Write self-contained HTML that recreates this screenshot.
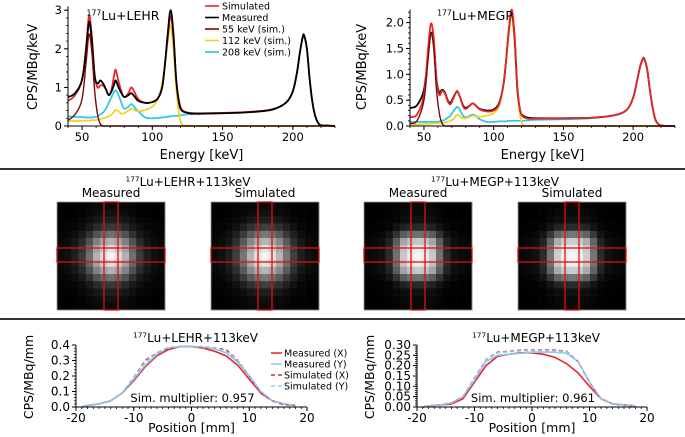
<!DOCTYPE html>
<html><head><meta charset="utf-8">
<style>
html,body{margin:0;padding:0;background:#fff;}
svg{display:block;font-family:"DejaVu Sans","Liberation Sans",sans-serif;}
</style></head>
<body>
<svg id="fig" width="685" height="437" viewBox="0 0 685 437" xmlns="http://www.w3.org/2000/svg">
<rect x="0" y="0" width="685" height="437" fill="#fff"/>
<line x1="0" y1="169" x2="685" y2="169" stroke="#333" stroke-width="2"/>
<line x1="0" y1="319" x2="685" y2="319" stroke="#333" stroke-width="2"/>
<g id="layer"></g>
</svg>
<script>
// ---------- DATA ----------
const energies = [40,45,50,53,55,57,59,61,63,65,67,69,71,73,74,76,78,80,83,85,87,90,95,100,104,107,109,111,113,115,117,119,121,125,130,150,170,185,195,200,203,205,207,208,210,212,214,216,218,220,225,230];
const lehrMeasured = [0.75,0.85,1.2,2.0,2.7,2.2,1.3,1.1,1.18,1.1,0.95,0.8,0.9,1.1,1.18,1.0,0.85,0.75,0.8,0.85,0.78,0.65,0.6,0.62,0.72,1.0,1.6,2.4,3.0,2.4,1.2,0.6,0.4,0.34,0.32,0.33,0.36,0.42,0.6,0.9,1.4,1.9,2.3,2.35,2.0,1.2,0.6,0.25,0.08,0.02,0.01,0.0];
const lehrSimulated = [0.65,0.8,1.2,2.1,2.87,2.3,1.3,1.0,1.05,1.05,0.95,0.8,0.95,1.35,1.45,1.15,0.9,0.75,0.85,1.0,0.9,0.7,0.6,0.62,0.72,1.0,1.6,2.3,2.85,2.3,1.2,0.65,0.42,0.35,0.33,0.34,0.37,0.43,0.6,0.9,1.4,1.9,2.3,2.35,2.0,1.2,0.6,0.25,0.08,0.02,0.01,0.0];
const lehr55 = [0.15,0.3,0.7,1.7,2.38,1.9,0.9,0.3,0.05,0,0,0,0,0,0,0,0,0,0,0,0,0,0,0,0,0,0,0,0,0,0,0,0,0,0,0,0,0,0,0,0,0,0,0,0,0,0,0,0,0,0,0];
const lehr112 = [0.13,0.13,0.14,0.14,0.14,0.15,0.15,0.16,0.18,0.2,0.22,0.25,0.3,0.38,0.42,0.38,0.32,0.33,0.4,0.45,0.42,0.38,0.42,0.5,0.7,1.1,1.6,2.2,2.6,2.0,1.0,0.3,0.05,0,0,0,0,0,0,0,0,0,0,0,0,0,0,0,0,0,0,0];
const lehr208 = [0.25,0.24,0.23,0.22,0.22,0.22,0.23,0.25,0.3,0.35,0.45,0.6,0.75,0.9,0.92,0.8,0.6,0.45,0.5,0.57,0.5,0.38,0.22,0.2,0.21,0.22,0.23,0.24,0.25,0.26,0.26,0.27,0.28,0.3,0.31,0.33,0.36,0.42,0.6,0.9,1.4,1.9,2.3,2.35,2.0,1.2,0.6,0.25,0.08,0.02,0.01,0.0];
const megpMeasured = [0.35,0.4,0.7,1.4,1.8,1.6,0.9,0.65,0.7,0.65,0.5,0.45,0.55,0.65,0.67,0.55,0.4,0.35,0.4,0.44,0.4,0.33,0.3,0.32,0.45,0.8,1.3,1.9,2.2,1.7,0.7,0.3,0.2,0.16,0.15,0.15,0.16,0.2,0.3,0.55,0.9,1.15,1.3,1.3,1.1,0.7,0.35,0.12,0.04,0.01,0,0];
const megpSimulated = [0.17,0.22,0.6,1.5,1.98,1.7,0.9,0.6,0.68,0.63,0.48,0.42,0.53,0.65,0.67,0.55,0.38,0.33,0.4,0.44,0.4,0.32,0.28,0.3,0.43,0.8,1.3,1.9,2.25,1.75,0.75,0.3,0.18,0.14,0.14,0.15,0.16,0.2,0.3,0.55,0.9,1.15,1.3,1.3,1.1,0.7,0.35,0.12,0.04,0.01,0,0];
const megp55 = [0.05,0.1,0.5,1.3,1.8,1.5,0.7,0.25,0.05,0,0,0,0,0,0,0,0,0,0,0,0,0,0,0,0,0,0,0,0,0,0,0,0,0,0,0,0,0,0,0,0,0,0,0,0,0,0,0,0,0,0,0];
const megp112 = [0.03,0.03,0.04,0.04,0.04,0.05,0.05,0.05,0.06,0.07,0.08,0.1,0.13,0.2,0.22,0.18,0.15,0.15,0.18,0.2,0.19,0.18,0.2,0.25,0.4,0.8,1.3,1.8,2.15,1.6,0.7,0.2,0.02,0,0,0,0,0,0,0,0,0,0,0,0,0,0,0,0,0,0,0];
const megp208 = [0.08,0.08,0.08,0.08,0.08,0.08,0.08,0.09,0.1,0.12,0.16,0.2,0.28,0.35,0.37,0.3,0.2,0.17,0.2,0.22,0.2,0.13,0.08,0.08,0.09,0.09,0.09,0.1,0.1,0.1,0.1,0.1,0.1,0.11,0.12,0.13,0.15,0.2,0.3,0.55,0.9,1.15,1.3,1.3,1.1,0.7,0.35,0.12,0.04,0.01,0,0];

const positions = [-19,-18,-16,-14,-12,-10,-8,-6,-4,-2,0,2,4,6,8,10,12,14,16,18];
const lehrMeasX = [0,0.01,0.02,0.04,0.09,0.17,0.26,0.33,0.37,0.39,0.39,0.38,0.36,0.33,0.27,0.18,0.09,0.04,0.02,0.01];
const lehrMeasY = [0,0.01,0.02,0.04,0.09,0.18,0.27,0.34,0.38,0.39,0.39,0.385,0.375,0.35,0.29,0.2,0.1,0.04,0.02,0.01];
const lehrSimX  = [0,0.01,0.02,0.04,0.09,0.19,0.3,0.35,0.38,0.39,0.39,0.385,0.38,0.37,0.3,0.2,0.09,0.04,0.015,0.01];
const lehrSimY  = [0,0.01,0.02,0.04,0.09,0.19,0.29,0.35,0.385,0.39,0.39,0.39,0.38,0.36,0.3,0.2,0.1,0.04,0.02,0.01];
const megpMeasX = [0,0.005,0.01,0.015,0.04,0.12,0.2,0.245,0.255,0.262,0.262,0.255,0.24,0.21,0.165,0.1,0.04,0.015,0.01,0.005];
const megpMeasY = [0,0.005,0.01,0.02,0.05,0.13,0.22,0.25,0.255,0.26,0.265,0.265,0.265,0.26,0.22,0.12,0.04,0.015,0.01,0.005];
const megpSimX  = [0,0.005,0.01,0.02,0.05,0.14,0.23,0.265,0.27,0.275,0.275,0.275,0.275,0.27,0.22,0.12,0.04,0.015,0.01,0.005];
const megpSimY  = [0,0.005,0.01,0.02,0.05,0.14,0.23,0.262,0.268,0.272,0.272,0.272,0.272,0.268,0.22,0.12,0.04,0.015,0.01,0.005];

const imgProfileLehrMeas = [0.03,0.05,0.1,0.2,0.42,0.7,0.9,1.0,0.9,0.7,0.42,0.2,0.1,0.05,0.03];
const imgProfileLehrSim  = [0.03,0.05,0.1,0.22,0.45,0.72,0.92,1.0,0.92,0.72,0.45,0.22,0.1,0.05,0.03];
const imgProfileMegpMeas = [0.02,0.03,0.05,0.14,0.42,0.8,0.96,1.0,0.96,0.8,0.42,0.14,0.05,0.03,0.02];
const imgProfileMegpSim  = [0.02,0.03,0.05,0.14,0.44,0.82,0.97,1.0,0.97,0.82,0.44,0.14,0.05,0.03,0.02];

const spectrumTicksX = [50,100,150,200];
const lehrTicksY = [0,1,2,3];
const megpTicksY = [0.0,0.5,1.0,1.5,2.0];
const profTicksX = [-20,-10,0,10,20];
const lehrProfTicksY = [0.0,0.1,0.2,0.3,0.4];
const megpProfTicksY = [0.00,0.05,0.10,0.15,0.20,0.25,0.30];

// ---------- HELPERS ----------
const NS = "http://www.w3.org/2000/svg";
const layer = document.getElementById('layer');
function mk(tag, attrs, parent){
  const e = document.createElementNS(NS, tag);
  for (const k in attrs) e.setAttribute(k, attrs[k]);
  (parent||layer).appendChild(e);
  return e;
}
function txt(x,y,s,size,anchor,parent){
  const t = mk('text',{x:x,y:y,'font-size':size,'text-anchor':anchor||'middle',fill:'#000'},parent);
  t.textContent = s;
  return t;
}
function linScale(d0,d1,r0,r1){ return v => r0 + (v-d0)/(d1-d0)*(r1-r0); }
function smoothPath(pts){
  let d = 'M'+pts[0][0].toFixed(2)+','+pts[0][1].toFixed(2);
  for (let i=0;i<pts.length-1;i++){
    const p0 = pts[i-1]||pts[i], p1 = pts[i], p2 = pts[i+1], p3 = pts[i+2]||p2;
    const c1x = p1[0]+(p2[0]-p0[0])/6, c1y = p1[1]+(p2[1]-p0[1])/6;
    const c2x = p2[0]-(p3[0]-p1[0])/6, c2y = p2[1]-(p3[1]-p1[1])/6;
    d += ' C'+c1x.toFixed(2)+','+c1y.toFixed(2)+' '+c2x.toFixed(2)+','+c2y.toFixed(2)+' '+p2[0].toFixed(2)+','+p2[1].toFixed(2);
  }
  return d;
}

function axes(g, xs, ys, x0, x1, y0, y1, xticks, yticks, xfmt, yfmt, fs, xminor, yminor, xdom, ydom){
  mk('line',{x1:x0,y1:y0,x2:x1,y2:y0,stroke:'#000','stroke-width':1},g);
  mk('line',{x1:x0,y1:y0,x2:x0,y2:y1,stroke:'#000','stroke-width':1},g);
  xticks.forEach(v=>{
    const X = xs(v);
    mk('line',{x1:X,y1:y0,x2:X,y2:y0+4,stroke:'#000','stroke-width':1},g);
    const t = txt(X, y0+15, xfmt(v), fs, 'middle', g);
    
    
  });
  yticks.forEach(v=>{
    const Y = ys(v);
    mk('line',{x1:x0-4,y1:Y,x2:x0,y2:Y,stroke:'#000','stroke-width':1},g);
    const t = txt(x0-6, Y+4, yfmt(v), fs, 'end', g);
    
    
  });
  if (xminor){ for (let v=xdom[0]; v<=xdom[1]+1e-9; v+=xminor){ const X=xs(v); mk('line',{x1:X,y1:y0,x2:X,y2:y0+2,stroke:'#000','stroke-width':0.8},g);} }
  if (yminor){ for (let v=ydom[0]; v<=ydom[1]+1e-9; v+=yminor){ const Y=ys(v); mk('line',{x1:x0-2,y1:Y,x2:x0,y2:Y,stroke:'#000','stroke-width':0.8},g);} }
}

function series(g, xs, ys, xv, yv, color, width, dash, name, smooth){
  const pts = xv.map((x,i)=>[xs(x), ys(yv[i])]);
  const p = mk('path',{d: smooth? smoothPath(pts) : 'M'+pts.map(p=>p[0].toFixed(2)+','+p[1].toFixed(2)).join(' L'), fill:'none', stroke:color,'stroke-width':width,'stroke-linejoin':'round'},g);
  if (dash) p.setAttribute('stroke-dasharray', dash);
  
  
}

function titleSup(x,y,rest,fs,g){
  const t = mk('text',{x:x,y:y,'font-size':fs,'text-anchor':'middle',fill:'#000'},g);
  const s = mk('tspan',{'font-size':fs*0.62,dy:-fs*0.38},t); s.textContent='177';
  const r = mk('tspan',{dy:fs*0.38},t); r.textContent=rest;
  return t;
}

// ---------- SPECTRUM PANELS ----------
function spectrum(name, x0, x1, ymaxVal, yPerUnit, yticks, yfmt, yminor, data, title, titleX, legend, redTop){
  const g = mk('g',{});
  
  
  const y0 = 126;
  const xs = linScale(40,230,x0,x1);
  const ys = v => y0 - v*yPerUnit;
  const cols = {s:'#e8262a', m:'#000', p55:'#7a0b0b', p112:'#f2d21b', p208:'#2ec4ea'};
  series(g,xs,ys,energies,data.p208,cols.p208,1.7,null,'series-208kev',true);
  series(g,xs,ys,energies,data.p112,cols.p112,1.7,null,'series-112kev',true);
  if (redTop){
    series(g,xs,ys,energies,data.m,cols.m,1.8,null,'series-measured',true);
    series(g,xs,ys,energies,data.s,cols.s,1.8,null,'series-simulated',true);
  } else {
    series(g,xs,ys,energies,data.s,cols.s,1.8,null,'series-simulated',true);
    series(g,xs,ys,energies,data.m,cols.m,1.8,null,'series-measured',true);
  }
  series(g,xs,ys,energies,data.p55,cols.p55,1.4,null,'series-55kev',true);
  axes(g,xs,ys,x0,x1,y0,ys(ymaxVal),spectrumTicksX,yticks,v=>String(v),yfmt,11.5,10,yminor,[40,230],[0,ymaxVal]);
  const xl = txt((x0+x1)/2, 159, 'Energy [keV]', 13, 'middle', g);
   
  const ylx = x0 - (yfmt(yticks[yticks.length-1]).length>1? 44: 31);
  const yl = txt(0,0,'CPS/MBq/keV',13,'middle',g);
  yl.setAttribute('transform','translate('+ylx+',67) rotate(-90)');
   
  const tt = titleSup(titleX, 20, title, 12.5, g);
   
  if (legend){
    const lg = mk('g',{},g);
     
    const items = [['Simulated',cols.s],['Measured',cols.m],['55 keV (sim.)',cols.p55],['112 keV (sim.)',cols.p112],['208 keV (sim.)',cols.p208]];
    items.forEach((it,i)=>{
      const y = 6 + i*11.5;
      const e = mk('g',{},lg);
       
      mk('line',{x1:205,y1:y,x2:219,y2:y,stroke:it[1],'stroke-width':1.6},e);
      txt(222,y+3.5,it[0],9.5,'start',e);
    });
  }
}
spectrum('spectrum-lehr-chart',68,335,3.1,38.6,lehrTicksY,v=>String(v),0.2,{m:lehrMeasured,s:lehrSimulated,p55:lehr55,p112:lehr112,p208:lehr208},'Lu+LEHR',123,true,false);
spectrum('spectrum-megp-chart',410,675,2.25,51.7,megpTicksY,v=>v.toFixed(1),0.1,{m:megpMeasured,s:megpSimulated,p55:megp55,p112:megp112,p208:megp208},'Lu+MEGP',475,false,true);

// ---------- IMAGES ----------
function image(name,x,y,size,profile,barX){
  const g = mk('g',{});
  
  
  const n = profile.length, c = size/n;
  for (let i=0;i<n;i++) for (let j=0;j<n;j++){
    const v = Math.min(1, profile[i]*profile[j]);
    const gv = Math.round(Math.pow(v,0.9)*245);
    const r = mk('rect',{x:(x+i*c).toFixed(2),y:(y+j*c).toFixed(2),width:(c+0.3).toFixed(2),height:(c+0.3).toFixed(2),fill:'rgb('+gv+','+gv+','+gv+')'},g);
    
    
  }
  mk('rect',{x:x,y:y,width:size,height:size,fill:'none',stroke:'#999','stroke-width':0.8},g);
  const vb = mk('rect',{x:x+barX,y:y,width:14,height:size,fill:'none',stroke:'#e01010','stroke-width':1.3},g);
   
  const hb = mk('rect',{x:x,y:y+46,width:size,height:14,fill:'none',stroke:'#e01010','stroke-width':1.3},g);
   
}
image('lehr-measured-image',57,202,108,imgProfileLehrMeas,47);
image('lehr-simulated-image',211,202,108,imgProfileLehrSim,47);
image('megp-measured-image',364,202,108,imgProfileMegpMeas,47);
image('megp-simulated-image',518,202,108,imgProfileMegpSim,47);
[['Measured',111],['Simulated',265],['Measured',418],['Simulated',572]].forEach(l=>{
  const t = txt(l[1],197,l[0],12,'middle');
   
});
let mt = titleSup(188,186,'Lu+LEHR+113keV',12,layer);
 
mt = titleSup(495,186,'Lu+MEGP+113keV',12,layer);
 

// ---------- PROFILE PANELS ----------
function profile(name,x0,x1,ymax,ytop,yticks,yfmt,yminor,d,title,mult,legend){
  const g = mk('g',{});
  
  
  const y0 = 407;
  const xs = linScale(-20,20,x0,x1);
  const ys = linScale(0,ymax,y0,ytop);
  series(g,xs,ys,positions,d.mx,'#e8262a',1.6,null,'measured-x-line',false);
  series(g,xs,ys,positions,d.my,'#8ec8ec',1.6,null,'measured-y-line',false);
  series(g,xs,ys,positions,d.sx,'#e8262a',1.6,'4,3','simulated-x-line',false);
  series(g,xs,ys,positions,d.sy,'#8ec8ec',1.6,'4,3','simulated-y-line',false);
  axes(g,xs,ys,x0,x1,y0,ytop,profTicksX,yticks,v=>String(v),yfmt,12,1,yminor,[-20,20],[0,ymax]);
  const xl = txt((x0+x1)/2,432,'Position [mm]',12.5,'middle',g);
   
  const yl = txt(0,0,'CPS/MBq/mm',12.5,'middle',g);
  yl.setAttribute('transform','translate('+(x0-43)+',377) rotate(-90)');
   
  const tt = titleSup((x0+x1)/2+4,342,title,12,g);
   
  const m = txt(xs(0)+1,402,'Sim. multiplier: '+mult,11.5,'middle',g);
   
  if (legend){
    const lg = mk('g',{},g);
     
    const items = [['Measured (X)','#e8262a',null],['Measured (Y)','#8ec8ec',null],['Simulated (X)','#e8262a','4,3'],['Simulated (Y)','#8ec8ec','4,3']];
    items.forEach((it,i)=>{
      const y = 353 + i*11;
      const e = mk('g',{},lg);
       
      const l = mk('line',{x1:271,y1:y,x2:282,y2:y,stroke:it[1],'stroke-width':1.5},e);
      if (it[2]) l.setAttribute('stroke-dasharray',it[2]);
      txt(284,y+3.5,it[0],9.5,'start',e);
    });
  }
}
profile('profile-lehr-chart',76,307,0.4,345,lehrProfTicksY,v=>v.toFixed(1),0.02,{mx:lehrMeasX,my:lehrMeasY,sx:lehrSimX,sy:lehrSimY},'Lu+LEHR+113keV','0.957',true);
profile('profile-megp-chart',417,647,0.30,345,megpProfTicksY,v=>v.toFixed(2),0.01,{mx:megpMeasX,my:megpMeasY,sx:megpSimX,sy:megpSimY},'Lu+MEGP+113keV','0.961',false);
</script>
</body></html>
